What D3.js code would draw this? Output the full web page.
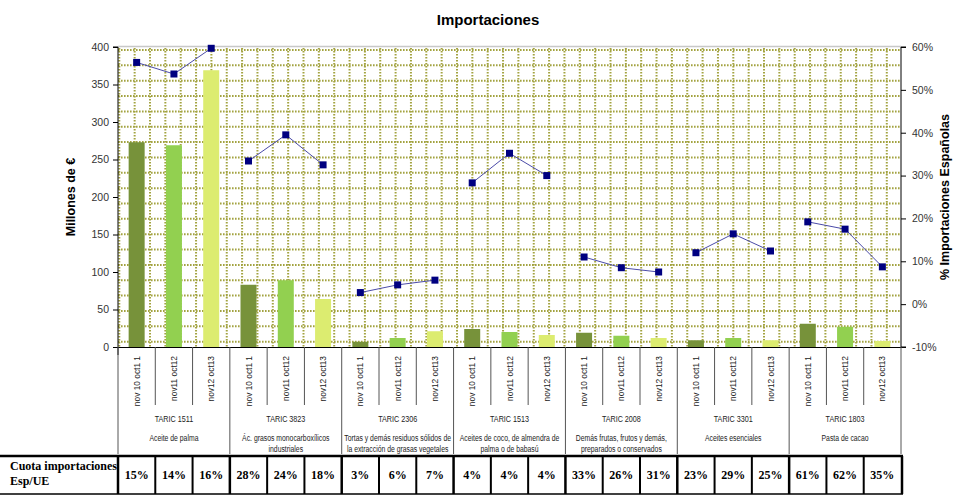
<!DOCTYPE html>
<html><head><meta charset="utf-8">
<script src="https://cdn.jsdelivr.net/npm/d3@7/dist/d3.min.js"></script>
<style>
html,body{margin:0;padding:0;background:#fff;}
svg{display:block;}
</style></head>
<body>
<svg id="chart" width="957" height="495"></svg>
<script>
// ---------- DATA ----------
const groups = ["TARIC 1511","TARIC 3823","TARIC 2306","TARIC 1513","TARIC 2008","TARIC 3301","TARIC 1803"];
const descriptions = [
  ["Aceite de palma"],
  ["Ác. grasos monocarboxílicos","industriales"],
  ["Tortas y demás residuos sólidos de","la extracción de grasas vegetales"],
  ["Aceites de coco, de almendra de","palma o de babasú"],
  ["Demás frutas, frutos y demás,","preparados o conservados"],
  ["Aceites esenciales"],
  ["Pasta de cacao"]
];
const periods = ["nov 10 oct1 1","nov11 oct12","nov12 oct13"];
// Imports, millions of € (bars)
const imports = [
  [273,269,369],
  [83,89,64],
  [7,12,21],
  [24,20,16],
  [19,15,12],
  [9,12,9],
  [31,27,8]
];
// % of Spanish imports (line)
const sharePct = [
  [56.4,53.7,59.7],
  [33.4,39.5,32.5],
  [2.7,4.5,5.6],
  [28.3,35.2,30.0],
  [11.0,8.5,7.5],
  [12.0,16.4,12.4],
  [19.2,17.5,8.7]
];
// Cuota importaciones Esp/UE (table)
const quota = [
  [15,14,16],
  [28,24,18],
  [3,6,7],
  [4,4,4],
  [33,26,31],
  [23,29,25],
  [61,62,35]
];
const leftTicks = [0,50,100,150,200,250,300,350,400];
const rightTicks = [-10,0,10,20,30,40,50,60];
const title = "Importaciones";
const leftLabel = "Millones de €";
const rightLabel = "% Importaciones Españolas";
const tableLabel = ["Cuota importaciones","Esp/UE"];

// ---------- LAYOUT ----------
const svg = d3.select("#chart");
const X0 = 118, X1 = 901, Y0 = 47, Y1 = 347;
const barColors = ["#77923a","#92d050","#dcec70"];
const sansFont = "'Liberation Sans',Arial,sans-serif";
const serifFont = "'Liberation Serif','Times New Roman',serif";

const slots = [];
groups.forEach((g,gi)=>periods.forEach((p,pi)=>slots.push({gi,pi,key:gi+"_"+pi})));

const x = d3.scaleBand().domain(slots.map(d=>d.key)).range([X0,X1]).paddingInner(0).paddingOuter(0);
const yL = d3.scaleLinear().domain([0,400]).range([Y1,Y0]);
const yR = d3.scaleLinear().domain([-10,60]).range([Y1,Y0]);

// condensed text helper (emulates a narrow font)
function ctext(parent, tx, ty, str, size, sx, anchor, rot){
  return parent.append("text")
    .attr("transform",`translate(${tx},${ty})${rot?` rotate(${rot})`:""} scale(${sx},1)`)
    .attr("text-anchor",anchor).attr("font-family",sansFont).attr("font-size",size)
    .attr("fill","#222").text(str);
}

// Plot area pattern grid (dotted)
const grid = svg.append("g");
const gstep = 15.35;
for (let gx = X0+1.3; gx < X1; gx += gstep) {
  grid.append("line").attr("x1",gx).attr("x2",gx).attr("y1",Y0+1).attr("y2",Y1)
    .attr("stroke","#a3a341").attr("stroke-width",2).attr("stroke-dasharray","1.6,1.4");
}
for (let gy = Y0+3; gy < Y1; gy += gstep) {
  grid.append("line").attr("x1",X0).attr("x2",X1).attr("y1",gy).attr("y2",gy)
    .attr("stroke","#a3a341").attr("stroke-width",2).attr("stroke-dasharray","1.6,1.4");
}
// top border
svg.append("line").attr("x1",X0).attr("x2",X1).attr("y1",Y0-0.5).attr("y2",Y0-0.5)
  .attr("stroke","#c8c8c8").attr("stroke-width",1.5);

// Bars
const bw = 16;
svg.append("g").selectAll("rect").data(slots).join("rect")
  .attr("x",d=>x(d.key)+x.bandwidth()/2-bw/2)
  .attr("width",bw)
  .attr("y",d=>yL(imports[d.gi][d.pi]))
  .attr("height",d=>Y1-yL(imports[d.gi][d.pi]))
  .attr("fill",d=>barColors[d.pi]);

// Line per group
const lineGen = d3.line().x(d=>x(d.key)+x.bandwidth()/2).y(d=>yR(sharePct[d.gi][d.pi]));
groups.forEach((g,gi)=>{
  const pts = slots.filter(s=>s.gi===gi);
  svg.append("path").datum(pts).attr("d",lineGen)
    .attr("fill","none").attr("stroke","#4b4ba8").attr("stroke-width",1);
});
const ms = 7;
svg.append("g").selectAll("rect").data(slots).join("rect")
  .attr("x",d=>x(d.key)+x.bandwidth()/2-ms/2)
  .attr("y",d=>yR(sharePct[d.gi][d.pi])-ms/2)
  .attr("width",ms).attr("height",ms).attr("fill","#000080");

// Left axis
const axL = svg.append("g").attr("transform",`translate(${X0},0)`)
  .call(d3.axisLeft(yL).tickValues(leftTicks).tickSize(5).tickPadding(4));
axL.select(".domain").attr("stroke","#000").attr("d",`M-5,${Y0}H0V${Y1+8}`);
axL.selectAll("text").attr("font-family",sansFont).attr("font-size",10.5).attr("fill","#333");
axL.selectAll("line").attr("stroke","#000");

// Right axis
const axR = svg.append("g").attr("transform",`translate(${X1},0)`)
  .call(d3.axisRight(yR).tickValues(rightTicks).tickFormat(d=>d+"%").tickSize(5).tickPadding(6));
axR.select(".domain").attr("stroke","#000").attr("d",`M5,${Y0}H0V${Y1}H5`);
axR.selectAll("text").attr("font-family",sansFont).attr("font-size",10.5).attr("fill","#333");
axR.selectAll("line").attr("stroke","#000");

// bottom axis line
svg.append("line").attr("x1",X0-5).attr("x2",X1).attr("y1",Y1+0.5).attr("y2",Y1+0.5)
  .attr("stroke","#000").attr("stroke-width",1);

// Title & axis labels
svg.append("text").attr("x",488).attr("y",25).attr("text-anchor","middle")
  .attr("font-family",sansFont).attr("font-weight","bold").attr("font-size",15).text(title);
svg.append("text").attr("transform","translate(75,197) rotate(-90)").attr("text-anchor","middle")
  .attr("font-family",sansFont).attr("font-weight","bold").attr("font-size",12.5).text(leftLabel);
svg.append("text").attr("transform","translate(949,197) rotate(-90)").attr("text-anchor","middle")
  .attr("font-family",sansFont).attr("font-weight","bold").attr("font-size",12.5).text(rightLabel);

// Category table under axis
const cat = svg.append("g");
slots.forEach(s=>{
  const sx = x(s.key);
  const isGroupStart = s.pi===0;
  cat.append("line").attr("x1",sx).attr("x2",sx).attr("y1",Y1).attr("y2",isGroupStart?454:405)
    .attr("stroke","#555").attr("stroke-width",1);
  ctext(cat, sx+x.bandwidth()/2+3, 356, periods[s.pi], 9.5, 0.88, "end", -90);
});
cat.append("line").attr("x1",X1).attr("x2",X1).attr("y1",Y1).attr("y2",454).attr("stroke","#555");
groups.forEach((g,gi)=>{
  const gx0 = x(gi+"_0"), gx1 = x(gi+"_2")+x.bandwidth();
  const cx = (gx0+gx1)/2;
  ctext(cat, cx, 422, g, 9, 0.8, "middle");
  descriptions[gi].forEach((line,li)=>{
    ctext(cat, cx, 441+li*11, line, 9, 0.76, "middle");
  });
});

// Bottom quota table
const TY0 = 456, TY1 = 494;
const tbl = svg.append("g");
tbl.append("line").attr("x1",0).attr("x2",X1+2).attr("y1",TY0).attr("y2",TY0).attr("stroke","#000").attr("stroke-width",2.5);
tbl.append("line").attr("x1",0).attr("x2",X1+2).attr("y1",TY1).attr("y2",TY1).attr("stroke","#000").attr("stroke-width",1.5);
slots.forEach(s=>{
  const sx = x(s.key);
  tbl.append("line").attr("x1",sx).attr("x2",sx).attr("y1",TY0).attr("y2",TY1)
    .attr("stroke","#000").attr("stroke-width",s.pi===0?2.5:2);
  tbl.append("text").attr("x",sx+x.bandwidth()/2).attr("y",(TY0+TY1)/2+4).attr("text-anchor","middle")
    .attr("font-family",serifFont).attr("font-weight","bold").attr("font-size",12)
    .text(quota[s.gi][s.pi]+"%");
});
tbl.append("line").attr("x1",X1+1).attr("x2",X1+1).attr("y1",TY0).attr("y2",TY1).attr("stroke","#000").attr("stroke-width",2.5);
tableLabel.forEach((t,i)=>{
  tbl.append("text").attr("x",10).attr("y",470+i*15)
    .attr("font-family",serifFont).attr("font-weight","bold").attr("font-size",12)
    .text(t);
});
</script>
</body></html>
